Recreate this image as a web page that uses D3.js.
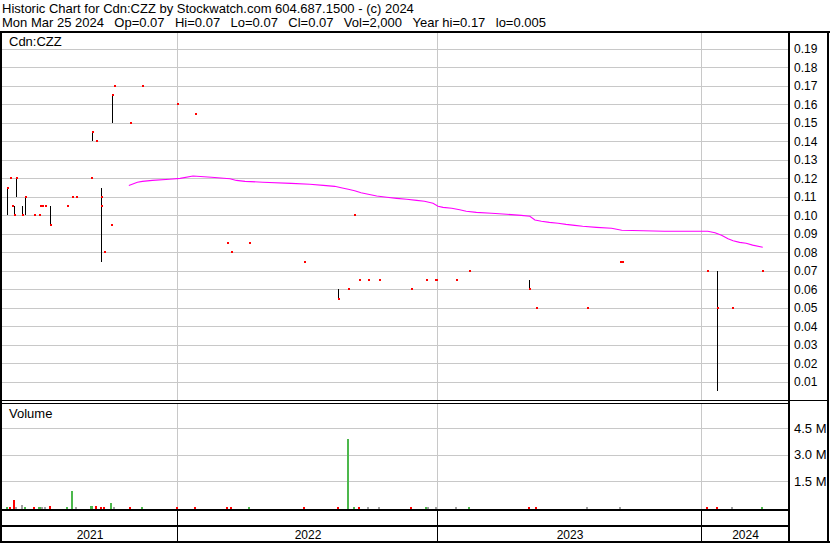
<!DOCTYPE html>
<html><head><meta charset="utf-8">
<script src="https://cdn.jsdelivr.net/npm/d3@7"></script>
<style>
body{margin:0;background:#fff;}
svg{display:block;font-family:"Liberation Sans",Arial,sans-serif;}
</style>
</head><body><svg id="c" width="830" height="543"></svg>
<script>
// ---------------- DATA ----------------
const titleLine1 = "Historic Chart for Cdn:CZZ by Stockwatch.com 604.687.1500 - (c) 2024";
const titleLine2Items = ["Mon Mar 25 2024", "Op=0.07", "Hi=0.07", "Lo=0.07", "Cl=0.07", "Vol=2,000", "Year hi=0.17", "lo=0.005"];
const symbolLabel = "Cdn:CZZ";
const volumeLabel = "Volume";

const yearStarts = ["2022-01-01","2023-01-01","2024-01-01"];
const yearLabels = ["2021","2022","2023","2024"];
const priceTicks = [0.01,0.02,0.03,0.04,0.05,0.06,0.07,0.08,0.09,0.10,0.11,0.12,0.13,0.14,0.15,0.16,0.17,0.18,0.19];
const volTicks = [1500000,3000000,4500000];
const volTickLabels = ["1.5 M","3.0 M","4.5 M"];

const priceDates = ["2021-05-06","2021-05-11","2021-05-14","2021-05-17","2021-05-19","2021-05-27","2021-06-01","2021-06-14","2021-06-21","2021-06-22","2021-06-25","2021-06-29","2021-07-06","2021-07-30","2021-08-06","2021-08-12","2021-09-02","2021-09-03","2021-09-09","2021-09-15","2021-09-16","2021-09-20","2021-09-29","2021-10-01","2021-10-04","2021-10-26","2021-11-12","2021-12-31","2022-01-25","2022-03-11","2022-03-17","2022-04-11","2022-06-28","2022-08-15","2022-08-29","2022-09-06","2022-09-13","2022-09-26","2022-10-11","2022-11-25","2022-12-16","2022-12-28","2022-12-30","2023-01-26","2023-02-13","2023-05-08","2023-05-17","2023-07-27","2023-09-11","2023-09-13","2024-01-09","2024-01-22","2024-02-12","2024-03-25"];
const priceHigh  = [0.115,0.12,0.105,0.105,0.12,0.105,0.11,0.10,0.10,0.105,0.105,0.105,0.105,0.105,0.11,0.11,0.12,0.145,0.14,0.115,0.11,0.08,0.095,0.165,0.17,0.15,0.17,0.16,0.155,0.085,0.08,0.085,0.075,0.06,0.06,0.10,0.065,0.065,0.065,0.06,0.065,0.065,0.065,0.065,0.07,0.065,0.05,0.05,0.075,0.075,0.07,0.07,0.05,0.07];
const priceLow   = [0.10,0.12,0.105,0.10,0.11,0.10,0.10,0.10,0.10,0.105,0.105,0.105,0.095,0.105,0.11,0.11,0.12,0.14,0.14,0.075,0.105,0.08,0.095,0.15,0.17,0.15,0.17,0.16,0.155,0.085,0.08,0.085,0.075,0.055,0.06,0.10,0.065,0.065,0.065,0.06,0.065,0.065,0.065,0.065,0.07,0.06,0.05,0.05,0.075,0.075,0.07,0.005,0.05,0.07];
const priceClose = [0.115,0.12,0.105,0.10,0.12,0.10,0.11,0.10,0.10,0.105,0.105,0.105,0.095,0.105,0.11,0.11,0.12,0.145,0.14,0.11,0.105,0.08,0.095,0.165,0.17,0.15,0.17,0.16,0.155,0.085,0.08,0.085,0.075,0.055,0.06,0.10,0.065,0.065,0.065,0.06,0.065,0.065,0.065,0.065,0.07,0.06,0.05,0.05,0.075,0.075,0.07,0.05,0.05,0.07];

const maDates = ["2021-10-24","2021-11-05","2021-11-12","2021-11-26","2021-12-20","2022-01-04","2022-01-22","2022-02-17","2022-03-15","2022-03-24","2022-04-05","2022-04-30","2022-06-09","2022-07-05","2022-07-24","2022-08-09","2022-08-18","2022-08-28","2022-09-06","2022-09-15","2022-09-25","2022-10-07","2022-10-21","2022-11-04","2022-11-18","2022-12-02","2022-12-13","2022-12-25","2023-01-01","2023-01-08","2023-01-20","2023-01-31","2023-02-09","2023-02-23","2023-03-16","2023-04-06","2023-04-26","2023-05-08","2023-05-15","2023-05-24","2023-06-04","2023-06-16","2023-06-27","2023-07-09","2023-07-20","2023-08-08","2023-08-29","2023-09-12","2023-11-10","2024-01-09","2024-01-19","2024-01-28","2024-02-06","2024-02-13","2024-02-22","2024-03-02","2024-03-11","2024-03-25"];
const maValues = [0.1162,0.1179,0.1184,0.1189,0.1195,0.1200,0.1213,0.1206,0.1198,0.1189,0.1184,0.1179,0.1173,0.1168,0.1162,0.1157,0.1149,0.1141,0.1133,0.1122,0.1114,0.1105,0.1098,0.1092,0.1087,0.1081,0.1076,0.1065,0.1049,0.1043,0.1038,0.1030,0.1022,0.1016,0.1011,0.1006,0.1000,0.0995,0.0975,0.0968,0.0962,0.0957,0.0951,0.0946,0.0941,0.0935,0.0930,0.0919,0.0914,0.0914,0.0906,0.0892,0.0873,0.0863,0.0854,0.0849,0.0839,0.0827];

const volDates = ["2021-05-06","2021-05-11","2021-05-17","2021-05-19","2021-05-27","2021-06-01","2021-06-14","2021-06-21","2021-06-22","2021-06-25","2021-06-29","2021-07-06","2021-07-30","2021-08-06","2021-08-12","2021-09-02","2021-09-03","2021-09-09","2021-09-15","2021-09-16","2021-09-20","2021-09-30","2021-10-04","2021-10-26","2021-11-12","2021-12-31","2022-01-25","2022-03-11","2022-03-17","2022-04-11","2022-06-28","2022-08-15","2022-08-29","2022-09-06","2022-09-13","2022-09-26","2022-10-11","2022-11-25","2022-12-16","2022-12-19","2022-12-30","2023-01-26","2023-02-13","2023-05-08","2023-05-17","2023-07-27","2023-09-11","2024-01-09","2024-01-22","2024-02-12","2024-03-25"];
const volValues = [45000,5000,443000,45000,142000,28000,5000,5000,5000,5000,5000,102000,5000,938000,5000,85000,85000,85000,5000,5000,5000,256000,5000,5000,5000,5000,5000,5000,5000,5000,5000,5000,3890000,5000,5000,28000,5000,5000,5000,5000,5000,5000,5000,28000,5000,5000,5000,5000,28000,5000,2000];
const volDir = ["u","d","d","f","f","u","d","u","u","f","f","d","u","u","f","u","u","d","u","d","d","u","f","d","u","d","d","d","d","u","d","d","u","u","d","f","f","d","u","f","f","f","u","d","d","f","f","d","d","f","u"];

// ---------------- CHART ----------------
const parse = d3.timeParse("%Y-%m-%d");
const svg = d3.select("#c");
const W = 830, H = 543;
const plotL = 2, plotR = 789;
const priceTop = 33, priceBot = 400;
const volTop = 403, volBot = 509;
const gridColor = "#c8c8c8";
const font = '"Liberation Sans",Arial,sans-serif';

svg.append("rect").attr("width", W).attr("height", H).attr("fill", "#fff");

const x = d3.scaleTime().domain(yearStarts.map(parse)).range([178, 438, 702]);
const yP = d3.scaleLinear().domain([0, 0.2]).range([400.2, 30.5]);
const yV = d3.scaleLinear().domain([0, 4500000]).range([507.5, 428.3]);

const crisp = v => Math.round(v) + 0.5;

// header
svg.append("text").attr("x", 2).attr("y", 13).attr("font-size", 13).text(titleLine1);
const t2 = svg.append("text").attr("x", 2).attr("y", 27).attr("font-size", 13);
t2.selectAll("tspan").data(titleLine2Items).enter().append("tspan")
  .attr("dx", (d, i) => i === 0 ? 0 : 10.4)
  .text(d => d);

// grids
const g = svg.append("g").attr("shape-rendering", "crispEdges");
g.selectAll("line.pg").data(priceTicks).enter().append("line")
  .attr("x1", plotL).attr("x2", plotR)
  .attr("y1", d => crisp(yP(d))).attr("y2", d => crisp(yP(d)))
  .attr("stroke", gridColor);
g.selectAll("line.vg").data(volTicks).enter().append("line")
  .attr("x1", plotL).attr("x2", plotR)
  .attr("y1", d => crisp(yV(d))).attr("y2", d => crisp(yV(d)))
  .attr("stroke", gridColor);
const yearDates = yearStarts.map(parse);
yearDates.forEach(d => {
  const xx = crisp(x(d)) - 1;
  g.append("line").attr("x1", xx).attr("x2", xx).attr("y1", priceTop).attr("y2", priceBot).attr("stroke", gridColor);
  g.append("line").attr("x1", xx).attr("x2", xx).attr("y1", volTop).attr("y2", volBot).attr("stroke", gridColor);
  g.append("line").attr("x1", xx).attr("x2", xx).attr("y1", 510).attr("y2", 541).attr("stroke", "#000");
});

// labels in panels
svg.append("text").attr("x", 9).attr("y", 46).attr("font-size", 13).text(symbolLabel);
svg.append("text").attr("x", 9).attr("y", 418).attr("font-size", 13).text(volumeLabel);

// price axis (right)
const pa = svg.append("g").attr("transform", `translate(${plotR},0)`)
  .call(d3.axisRight(yP).tickValues(priceTicks).tickFormat(d3.format(".2f")).tickSize(0).tickPadding(5));
pa.select(".domain").remove();
pa.attr("font-family", font).attr("font-size", 12);
pa.selectAll("text").attr("fill", "#000");

// volume axis
const va = svg.append("g").attr("transform", `translate(${plotR},0)`)
  .call(d3.axisRight(yV).tickValues(volTicks).tickFormat((d, i) => volTickLabels[i]).tickSize(0).tickPadding(5));
va.select(".domain").remove();
va.attr("font-family", font).attr("font-size", 13);
va.selectAll("text").attr("fill", "#000");

// volume bars
const volColor = {u: "#4cb84c", d: "#ff0000", f: "#a0a0a0"};
svg.append("g").attr("shape-rendering", "crispEdges")
  .selectAll("rect").data(volDates.map((d, i) => ({d: parse(d), v: volValues[i], dir: volDir[i]})))
  .enter().append("rect")
  .attr("x", d => Math.floor(x(d.d)) - 1)
  .attr("width", 2)
  .attr("y", d => yV(d.v))
  .attr("height", d => volBot - yV(d.v))
  .attr("fill", d => volColor[d.dir]);

// moving average
const maData = maDates.map((d, i) => ({d: parse(d), v: maValues[i]}));
svg.append("path").datum(maData)
  .attr("d", d3.line().x(d => x(d.d)).y(d => yP(d.v)))
  .attr("fill", "none").attr("stroke", "#ff00ff").attr("stroke-width", 1.1);

// price bars
const pData = priceDates.map((d, i) => ({d: parse(d), h: priceHigh[i], l: priceLow[i], c: priceClose[i]}));
const pg = svg.append("g").attr("shape-rendering", "crispEdges");
pg.selectAll("line").data(pData.filter(p => p.h > p.l)).enter().append("line")
  .attr("x1", p => Math.floor(x(p.d)) + 0.5).attr("x2", p => Math.floor(x(p.d)) + 0.5)
  .attr("y1", p => yP(p.h)).attr("y2", p => yP(p.l))
  .attr("stroke", "#000").attr("stroke-width", 1);
pg.selectAll("rect").data(pData).enter().append("rect")
  .attr("x", p => Math.floor(x(p.d)))
  .attr("y", p => Math.round(yP(p.c)) - 1)
  .attr("width", 2).attr("height", 2)
  .attr("fill", "#ff0000");

// frame
const f = svg.append("g").attr("fill", "#000").attr("shape-rendering", "crispEdges");
f.append("rect").attr("x", 0).attr("y", 31).attr("width", W).attr("height", 2);
f.append("rect").attr("x", 0).attr("y", 31).attr("width", 2).attr("height", H - 31);
f.append("rect").attr("x", 788).attr("y", 31).attr("width", 2).attr("height", H - 31);
f.append("rect").attr("x", 827).attr("y", 31).attr("width", 2).attr("height", H - 31);
f.append("rect").attr("x", 0).attr("y", 400).attr("width", 829).attr("height", 1);
f.append("rect").attr("x", 0).attr("y", 403).attr("width", 789).attr("height", 1);
f.append("rect").attr("x", 0).attr("y", 509).attr("width", 789).attr("height", 2);
f.append("rect").attr("x", 0).attr("y", 525).attr("width", 789).attr("height", 2);
f.append("rect").attr("x", 0).attr("y", 541).attr("width", W).attr("height", 2);

// year labels
const bounds = [plotL].concat(yearDates.map(d => x(d))).concat([plotR]);
svg.append("g").selectAll("text").data(yearLabels).enter().append("text")
  .attr("x", (d, i) => (bounds[i] + bounds[i + 1]) / 2)
  .attr("y", 539).attr("text-anchor", "middle").attr("font-size", 12)
  .text(d => d);
</script></body></html>
